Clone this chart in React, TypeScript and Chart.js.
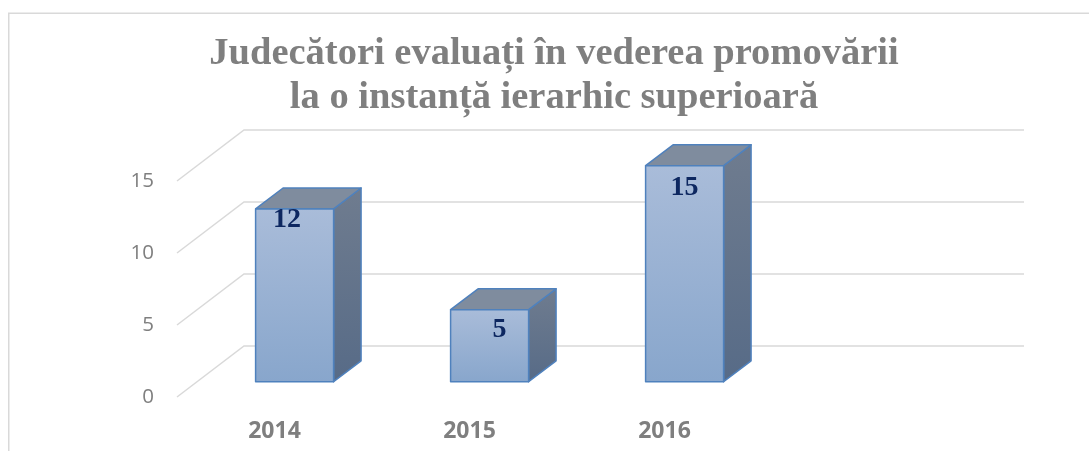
import React, { useEffect, useRef } from 'react';
import { Chart, registerables } from 'chart.js';

Chart.register(...registerables);

// ---- data ----
const categories: string[] = ['2014', '2015', '2016', ''];
const values: (number | null)[] = [12, 5, 15, null];
const yTickStep = 5;
const yMin = 0;
const yMax = 15;
const titleLines: string[] = [
  'Judecători evaluați în vederea promovării',
  'la o instanță ierarhic superioară',
];

// ---- style (projection / look) ----
const DEPTH = { x: 67, y: -51 }; // full floor depth vector
const BAR_FRONT = 0.3;
const BAR_BACK = 0.71;
const labelNudge = [
  { dx: -7.7, dy: 10.8 },
  { dx: 9.8, dy: 20.3 },
  { dx: 0, dy: 22.3 },
];
const GRID_COLOR = '#d9d9d9';
const TEXT_GRAY = '#7f7f7f';

const box3dPlugin = {
  id: 'box3d',
  beforeDraw(chart: any) {
    const ctx = chart.ctx;
    ctx.save();
    ctx.fillStyle = '#ffffff';
    ctx.fillRect(0, 0, chart.width, chart.height);
    ctx.strokeStyle = GRID_COLOR;
    ctx.lineWidth = 1.5;
    ctx.strokeRect(8.75, 13.25, chart.width + 100, chart.height + 100);
    ctx.restore();
  },
  beforeDatasetsDraw(chart: any) {
    const { ctx, chartArea, scales } = chart;
    const y = scales.y;
    ctx.save();
    ctx.strokeStyle = GRID_COLOR;
    ctx.lineWidth = 1.5;
    y.ticks.forEach((t: any) => {
      const p = y.getPixelForValue(t.value);
      ctx.beginPath();
      ctx.moveTo(chartArea.left, p);
      ctx.lineTo(chartArea.left + DEPTH.x, p + DEPTH.y);
      ctx.lineTo(chartArea.right + DEPTH.x, p + DEPTH.y);
      ctx.stroke();
    });
    ctx.restore();
  },
  afterDatasetsDraw(chart: any) {
    const { ctx } = chart;
    const meta = chart.getDatasetMeta(0);
    const fx = BAR_FRONT * DEPTH.x;
    const fy = BAR_FRONT * DEPTH.y;
    const bx = (BAR_BACK - BAR_FRONT) * DEPTH.x;
    const by = (BAR_BACK - BAR_FRONT) * DEPTH.y;
    meta.data.forEach((el: any, i: number) => {
      const v = values[i];
      if (v == null) return;
      const { x, y, base, width } = el.getProps(['x', 'y', 'base', 'width'], true);
      const x0 = x - width / 2 + fx;
      const x1 = x + width / 2 + fx;
      const top = y + fy;
      const bot = base + fy;
      ctx.save();
      ctx.lineJoin = 'round';
      ctx.strokeStyle = '#4f81bd';
      ctx.lineWidth = 1.5;

      // right side face
      const sg = ctx.createLinearGradient(0, top + by, 0, bot);
      sg.addColorStop(0, '#6f7c8f');
      sg.addColorStop(1, '#576b87');
      ctx.fillStyle = sg;
      ctx.beginPath();
      ctx.moveTo(x1, top);
      ctx.lineTo(x1 + bx, top + by);
      ctx.lineTo(x1 + bx, bot + by);
      ctx.lineTo(x1, bot);
      ctx.closePath();
      ctx.fill();
      ctx.stroke();

      // top face
      ctx.fillStyle = '#7f8c9e';
      ctx.beginPath();
      ctx.moveTo(x0, top);
      ctx.lineTo(x0 + bx, top + by);
      ctx.lineTo(x1 + bx, top + by);
      ctx.lineTo(x1, top);
      ctx.closePath();
      ctx.fill();
      ctx.stroke();

      // front face
      const fg = ctx.createLinearGradient(0, top, 0, bot);
      fg.addColorStop(0, '#a9bcd9');
      fg.addColorStop(1, '#88a6cc');
      ctx.fillStyle = fg;
      ctx.beginPath();
      ctx.rect(x0, top, x1 - x0, bot - top);
      ctx.fill();
      ctx.stroke();

      // value label
      const n = labelNudge[i] || { dx: 0, dy: 18 };
      ctx.fillStyle = '#0d2760';
      ctx.font = 'bold 28px "Liberation Serif", "Times New Roman", serif';
      ctx.textAlign = 'center';
      ctx.textBaseline = 'middle';
      ctx.fillText(String(v), (x0 + x1) / 2 + n.dx, top + n.dy);
      ctx.restore();
    });
  },
};

export default function App() {
  const ref = useRef<HTMLCanvasElement | null>(null);

  useEffect(() => {
    if (!ref.current) return;
    const chart = new Chart(ref.current, {
      type: 'bar',
      data: {
        labels: categories,
        datasets: [
          {
            data: values,
            backgroundColor: 'rgba(0,0,0,0)',
            borderWidth: 0,
            categoryPercentage: 1,
            barPercentage: 0.4,
          },
        ],
      },
      options: {
        responsive: false,
        maintainAspectRatio: false,
        devicePixelRatio: 1,
        animation: false,
        events: [],
        layout: { padding: { left: 19, right: 0, top: 0, bottom: 0 } },
        plugins: {
          legend: { display: false },
          tooltip: { enabled: false },
          title: {
            display: true,
            text: titleLines,
            color: TEXT_GRAY,
            font: {
              family: '"Liberation Serif", "Times New Roman", serif',
              size: 38.5,
              weight: 'bold',
              lineHeight: 44 / 38.5,
            },
            padding: { top: 32, bottom: 61 },
          },
        },
        scales: {
          x: {
            grid: { display: false, drawTicks: false },
            border: { display: false },
            ticks: {
              color: TEXT_GRAY,
              padding: 21,
              font: { family: '"Open Sans", sans-serif', size: 23, weight: 'bold' },
            },
            afterFit: (s: any) => {
              s.height = 54;
            },
          },
          y: {
            min: yMin,
            max: yMax,
            grid: { display: false, drawTicks: false },
            border: { display: false },
            ticks: {
              stepSize: yTickStep,
              color: TEXT_GRAY,
              padding: 23,
              font: { family: '"Open Sans", sans-serif', size: 20.5 },
            },
            afterFit: (s: any) => {
              s.width = 158;
            },
          },
          y2: {
            type: 'linear',
            position: 'right',
            grid: { display: false, drawTicks: false },
            border: { display: false },
            ticks: { display: false },
            afterFit: (s: any) => {
              s.width = 132;
            },
          },
        },
      },
      plugins: [box3dPlugin],
    } as any);
    return () => chart.destroy();
  }, []);

  return (
    <div style={{ position: 'absolute', left: 0, top: 0, width: 1089, height: 451, overflow: 'hidden', background: '#fff' }}>
      <canvas ref={ref} width={1089} height={451} style={{ display: 'block', width: 1089, height: 451 }} />
    </div>
  );
}
